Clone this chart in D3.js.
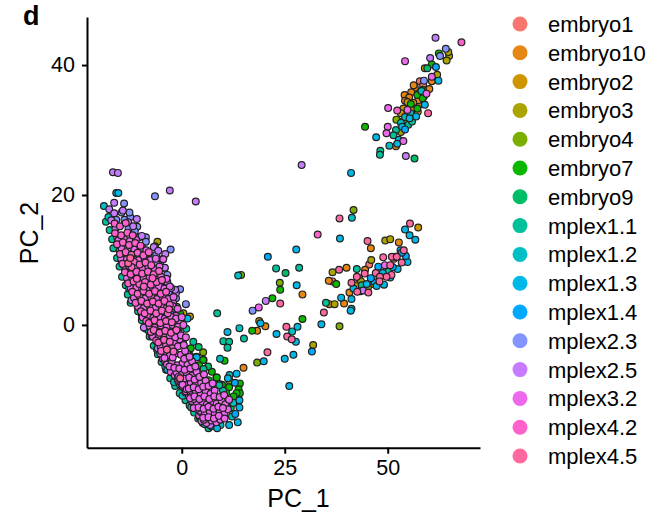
<!DOCTYPE html>
<html><head><meta charset="utf-8">
<script src="https://cdn.jsdelivr.net/npm/d3@7"></script>
<style>html,body{margin:0;padding:0;background:#fff}svg{display:block}text{font-family:"Liberation Sans",Helvetica,Arial,sans-serif;fill:#000}</style>
</head><body><svg id="c" width="665" height="518"></svg>
<script>
const categories=["embryo1","embryo10","embryo2","embryo3","embryo4","embryo7","embryo9","mplex1.1","mplex1.2","mplex1.3","mplex1.4","mplex2.3","mplex2.5","mplex3.2","mplex4.2","mplex4.5"];
const colors=["#F8766D","#E68613","#CD9600","#ABA300","#7CAE00","#0CB702","#00BE67","#00C19A","#00BFC4","#00B8E7","#00A9FF","#8494FF","#C77CFF","#ED68ED","#FF61CC","#FF68A1"];
const xTicks=[0,25,50];
const yTicks=[0,20,40];

const embryo1=[[57.8,37.5],[36.6,6.7],[45.5,9.3],[43,7.2],[51.5,10.2],[58.6,36.9],[-3,-2.5]];
const embryo10=[[60.1,36.3],[56.6,36.5],[55.7,35.8],[54.1,35.4],[55.2,35],[54.2,34.5],[57.6,33.9],[57.4,34.6],[52,27.5],[60.7,37.5],[56.3,36.9],[58.8,35.2],[29.3,4.7],[20.3,-0.2],[18.3,-0.9],[15,-6.6],[52.7,12.7],[45.9,11.8],[35.7,6.8],[40,8.8],[40.7,5],[39.4,3.3],[51.8,10.5],[44.5,8.5]];
const embryo2=[[59,39.5],[53.8,33.3],[56.2,34.2],[54.8,34.3],[53.6,31.3],[55.7,33.2],[57.3,32.8],[18.8,0.6],[57.4,15],[35.8,3.2],[42.6,6.1],[46.5,6.3],[2,1.3],[53.2,32.6]];
const embryo3=[[64.9,41.4],[64.3,40.7],[64.7,42],[62,38.5],[53.2,29.7],[54.5,31.4],[31.9,-3.1],[49.4,13],[50.6,13.2],[46,10],[43.5,6.7],[36.6,8.1],[37.1,3.2],[-5.9,12.8],[-4.2,8.7],[0.4,1.8],[45.2,5.8]];
const embryo4=[[52.1,31.6],[41.7,17.7],[14.4,7.7],[23.8,6.5],[38.3,-0.2],[18.3,-5.8],[5.2,-4.2],[11.6,-8.6]];
const embryo7=[[62.4,41.8],[60.7,40.1],[57.2,35.4],[58.5,36.2],[58.5,34.9],[55.6,34],[57.2,33.3],[44.5,30.5],[23.9,5.4],[22,4.1],[29.3,0.9],[17.1,-0.9],[10.4,-5.5],[8.4,-8.1],[14.1,-9],[13.8,-9.9],[14.1,-10.5],[37.5,6.3],[5.3,-5.4],[3.6,-4.9],[8.5,-8.1],[6.5,-8.5],[13.3,-10.5],[11.5,-9.6],[12.6,-11],[-0.4,1.7],[-6.5,12.1],[7.3,-7.2],[9.8,-9.2],[5.2,-5.4],[2.2,-3.6],[10.8,-10.5],[4.2,-6.2]];
const embryo9=[[59.6,39.5],[56.5,25.6],[25.2,8],[-1.2,2.8],[4.1,-3.4],[6.4,-6.4],[11.9,-12.8]];
const mplex11=[[48.2,26.8],[48.1,26.2],[52,30],[51.4,29.2],[55,30.8],[55.9,31.3],[22.9,8.7],[28.5,8.8],[8.6,1.8],[10.1,-2.5],[11.5,-2.6],[11.1,-3.5],[15.1,-2.1],[9.1,-9.1],[42.5,8.6],[35,3.4],[41.2,2.5],[1.1,-0.6],[2.8,-2.6],[2,-4.7],[5.3,-6.8],[10,-10.1],[9.1,-9.3],[0.1,-10],[6.5,-15.9],[-18.4,15.9],[-17.5,14.6],[-16.9,13.2],[-16.6,11.8],[-15.7,10.3],[-15.1,9],[-14.5,7.4],[-13.6,6.1],[-13.1,4.7],[-12.4,3.4],[-10.6,2.1],[-9.7,0.7],[-8.7,-0.6],[-7.8,-1.8],[-6.8,-3.2],[-5.8,-4.5],[-4.9,-5.7],[-3.8,-6.9],[-2.8,-8.2],[-1.6,-9.4],[-0.5,-10.5],[0.9,-11.6],[1.9,-12.4],[3,-13.5],[4,-14.4],[5.1,-15.1],[43.7,6.1],[50.2,8.2],[-1,-8.8],[-2.1,-7.4]];
const mplex12=[[-15.9,20.3],[13.7,7.6],[14,-0.5],[9.3,-5.2],[26.8,-1],[41.3,16.5],[50.4,27.6],[54.2,32],[53.2,31.1],[58.2,36],[55.5,32.6],[-18.9,18.3],[-17.8,16.6],[-15.4,12.7],[-14.6,9.9],[-12.8,5.6],[-10.7,2.8],[-8,-0.9],[-6,-3.8],[-4,-6.4],[-1.9,-8.8],[0.2,-10.9],[2.3,-12.7],[4.4,-14.2],[5.6,-15.3],[7.2,-15.6],[9.4,-15.4],[12.2,-14.1],[11.6,-7.7],[12.5,-12]];
const mplex13=[[59,33.9],[47.2,28.9],[41.1,23.4],[56.9,32.1],[55.3,31.8],[52.7,28.5],[52.3,27.9],[53.5,30.5],[62.3,37.6],[27.8,11.6],[38.4,13.3],[27.9,6.1],[19.1,0.25],[23,-1.4],[11.1,-1.1],[28.1,-0.3],[27.7,-2.6],[33.9,0.1],[27.1,-4.6],[25,-5.2],[19.9,-5.6],[13.3,-7.5],[11.2,-8.2],[26.1,-9.4],[54.2,14.7],[55.3,13.8],[56.7,13.1],[54.8,9.7],[52.4,8.6],[48.8,8],[46.7,6.7],[44.9,6.3],[49.1,6.2],[47.3,6],[41.7,5.6],[41.2,4],[38.7,4.2],[41,2.2],[1.4,1],[3.6,-5],[-3.5,-6.9],[14,-12.7],[14,-11.6],[13.6,-15],[11.5,-15.4],[8.6,-15.9],[-15.4,20.3]];
const mplex14=[[61.7,39.7],[54.2,30.1],[31.6,-4.1],[20.9,10.5],[53.1,11.5],[54.4,10.6],[47.7,8.97],[47.4,7.4],[45.9,7.2],[51.2,8.9],[50.6,7.3],[43.4,5.2],[53.4,11.1],[13,-13.7],[12.9,-8.9]];
const mplex23=[[64.1,42.5],[62.7,41.4],[58.8,37.6],[17.2,2.2],[-6.5,19.8],[-14,18.7],[-12.5,16.6],[-10.8,15.1],[-10.3,13.5],[-8.7,13.5],[-8.7,12.8],[-2.7,11.6],[-6.2,10.8],[-3.5,7.7],[-0.4,5.5],[-1.4,4.1],[-3.2,5],[1,3.2],[-2.7,1.8],[0,-0.1],[-12.7,17.3],[-13.9,16.2],[-15.9,16.2],[-11.4,14.4],[-12.9,14.9],[-4.8,6.7],[-7.1,8.2],[-9.6,11.9],[-1.6,2.5],[-0.9,1],[-5.2,9.2],[-14.6,17.3]];
const mplex25=[[61.6,44.2],[60.3,41.1],[54.4,26],[29.1,24.6],[20.4,3.7],[44,5.3],[-16.7,23.5],[-15.5,23.4],[-2.9,20.7],[3.4,19],[-16.4,18.8],[-17.6,17.8],[-16.4,17.2],[-14.3,17.6],[-10.9,16.3],[-4.5,10.2],[-3.6,6.6],[-1.4,4.9],[-3.5,6.6],[-1.6,5.4],[-4,10.9],[-17.1,16.1],[-16.1,14.8],[-13,15.8],[-15.7,13.5],[-11.8,15.2],[-9.7,13.7],[-6.2,9.6],[-4.1,8.8],[-2.6,5.7],[-3.4,3.4],[-1.7,1.2],[-0.8,-0.8],[0.3,-2.6],[-9.2,-0.4],[-9.7,1.4],[-12.2,3.8],[-13,6.7],[-7.2,-1.8],[-5.8,-3.6],[-4.6,-5.2],[1.3,-4.4],[2.8,-6.2],[-2.3,-7.2],[-0.4,-9.2],[-15.1,11.4],[-14.2,9.3],[4.9,-7.9],[-0.4,-7.1],[6.9,-15.4],[-8,11],[-6.8,12],[-5.7,11.4]];
const mplex32=[[54.2,40.6],[50.1,33.4],[50,30.5],[49.7,29.5],[53.8,28.3],[54.8,33.1],[60.7,38.2],[59.4,35.6],[18.7,2.7],[49.3,9.2],[-4.5,10.1],[-6,-2.6],[-4.6,-2.4],[-3.2,-2.5],[-1.6,-2.7],[-0.5,-2.2],[-5.2,-4.4],[-4.2,-4.2],[-2.9,-4.7],[-1.5,-4.4],[-0.2,-4.6],[0.8,-4],[-4.1,-5.5],[-3.6,-6.1],[-2.4,-5.8],[-1.1,-6.2],[0.2,-5.9],[1.4,-6.1],[2.5,-5.6],[-2.7,-7.2],[-1.7,-7.8],[-1.3,-7.3],[0,-7.6],[1.2,-7.4],[2.5,-7.8],[3.6,-7.2],[-0.9,-8.6],[0.1,-9.4],[-0.2,-8.8],[1,-9.2],[2.2,-8.9],[3.4,-9.2],[4.7,-8.9],[5.8,-8.6],[0.9,-10.4],[1.7,-10.9],[1,-10.2],[2.2,-10.7],[3.4,-10.3],[4.6,-10.6],[5.8,-10.2],[7,-10.6],[8,-10.1],[2.4,-11.6],[3,-12.4],[2.5,-11.7],[3.7,-12.2],[4.9,-11.8],[6.1,-12.2],[7.3,-11.8],[8.5,-12.1],[9.7,-11.7],[10.6,-12.2],[4.2,-13.9],[4.6,-13.4],[4.4,-13.2],[5.6,-13.7],[6.8,-13.3],[8,-13.7],[9.2,-13.3],[10.4,-13.6],[11.2,-13],[4.8,-14.8],[6,-15.1],[7.2,-14.7],[8.4,-15],[9.4,-14.6],[-5.1,-3.4],[-3.8,-3.2],[-2.3,-3.6],[-0.9,-3.3],[0.5,-3.1],[-4.2,-5.1],[-2.2,-5],[0.6,-5.2],[1.9,-4.9],[-3,-6.4],[-1.8,-6.6],[-0.6,-6.7],[0.7,-6.9],[2.1,-6.7],[3.3,-6.4],[-1,-8.3],[-0.8,-8],[0.6,-8.3],[1.8,-8.1],[3.1,-8.4],[4.3,-8],[5.4,-7.6],[0.2,-9.2],[1.2,-9.9],[1.7,-9.8],[2.9,-9.6],[4.1,-9.9],[5.2,-9.5],[6.5,-9.4],[7.5,-9],[2.4,-11],[2.9,-11.4],[2,-11.3],[3.1,-11],[4.3,-11.4],[5.5,-11],[6.7,-11.4],[7.9,-11],[9.2,-11.1],[10.3,-10.8],[3.6,-12.9],[2.9,-12.8],[4.1,-12.7],[5.3,-12.9],[6.5,-12.6],[7.7,-12.9],[8.9,-12.6],[10,-12.8],[11.5,-11.5],[5.4,-14.6],[5.2,-14.3],[6.5,-14.2],[7.8,-14.4],[9,-14],[10.4,-14.4],[-7.4,-0.2],[-6.1,-1.1],[-4.7,-0.8],[-3.3,-1.2],[-2,-0.6],[-0.8,-1.2],[-0.4,0.4],[-1.4,1.4],[-2.5,2.8],[-3.6,4.1],[-8.6,2.4],[-10.1,3.4],[-6.2,4.2],[-11.8,7.4],[-13.8,11.2],[-14.9,12.4],[-12.1,11.8],[-6.9,6.8],[-4.9,5.8],[-2.1,3.4],[-5,1.2],[-15.4,13],[-14,13.2],[-12.6,12.9],[-11.1,13.1],[-14.6,11.7],[-13,11.8],[-11.5,11.6],[-10,11.8],[-8.6,11.5],[-14.7,10.2],[-13.3,10.1],[-11.9,10.3],[-10.4,10],[-9,10.3],[-7.6,10],[-6.3,10.2],[-13.5,8.8],[-10.9,8.9],[-9.5,8.6],[-8.1,8.9],[-6.6,8.6],[-5.4,9],[-13.3,7.2],[-12,7.1],[-10.6,7.4],[-9.2,7.1],[-7.8,7.3],[-6.3,7],[-5,7.4],[-3.7,7.1],[-12.4,5.7],[-11,5.8],[-9.6,5.5],[-8.2,5.8],[-6.9,5.6],[-5.5,5.9],[-4.2,5.6],[-2.9,5.9],[-11.6,4.2],[-10.2,4.4],[-8.8,4.1],[-7.4,4.3],[-6,4],[-4.6,4.3],[-3.3,4],[-2,4.3],[-10.6,2.8],[-9.2,2.6],[-7.8,2.9],[-6.4,2.6],[-5,2.9],[-3.6,2.6],[-2.2,2.9],[-1,2.5],[-9.5,1.2],[-8.2,1.4],[-6.9,1.1],[-5.5,1.3],[-4.1,1],[-2.7,1.3],[-1.4,1],[0,1.2],[-7.8,-0.2],[-6.5,-0.4],[-5.1,-0.1],[-3.6,-0.3],[-2.2,0],[-0.9,-0.3],[0.4,0],[-7,-1.8],[-5.6,-1.6],[-4.3,-1.9],[-2.9,-1.7],[-1.6,-1.9],[-0.2,-1.6],[1,-1.9]];
const mplex42=[[67.9,43.5],[52.3,33],[33,13.9],[-16.3,15.6],[-15,15.2],[-13.6,15.7],[-16.2,14.1],[-14.7,13.8],[-13.2,14.2],[-11.9,13.8],[-15.7,12.4],[-14.3,12.7],[-12.8,12.3],[-11.3,12.6],[-10,12.2],[-15,10.9],[-13.6,11.2],[-12.2,10.8],[-10.7,11.1],[-9.3,10.7],[-8,11.2],[-14.4,9.4],[-11.6,9.7],[-10.2,9.3],[-8.8,9.6],[-7.4,9.2],[-13.8,8.1],[-12.4,7.8],[-11,8.2],[-9.6,7.9],[-8.2,8.2],[-6.8,7.8],[-5.5,8.3],[-13,6.4],[-11.7,6.7],[-10.3,6.3],[-8.9,6.6],[-7.5,6.2],[-6.1,6.6],[-4.8,6.9],[-12,5.1],[-10.7,4.8],[-9.3,5.2],[-7.9,4.8],[-6.5,5.2],[-5.1,4.8],[-3.8,5.1],[-11.2,3.4],[-9.8,3.7],[-8.4,3.3],[-7,3.6],[-5.6,3.3],[-4.2,3.7],[-2.9,3.1],[-9.9,2.1],[-9,1.8],[-7.6,2.2],[-6.2,1.8],[-4.8,2.2],[-3.4,1.8],[-8.6,0.6],[-8,0.3],[-6.6,0.7],[-5.2,0.3],[-3.8,0.6],[-2.4,0.4],[-7.5,-1.1],[-6.8,-0.8],[-5.4,-1.2],[-4,-0.9],[-2.6,-1.2],[-1.3,-0.8],[-6.2,-2.4],[-5.7,-2.7],[-4.3,-2.3],[-2.9,-2.6],[-5,-4],[-3.6,-3.8],[-2,-4.1],[-12.8,9.1],[-10.9,7.1],[-12.2,8.9],[-9.2,5.9],[-7.1,7.2],[-3.1,2.4]];
const mplex45=[[59.8,32.6],[38.3,16.4],[23.9,3.3],[25.4,-0.3],[25.6,-1.8],[26.7,-2.2],[34.5,1.9],[20.8,-4.2],[55.4,15.6],[45.1,12.9],[48.9,10.4],[53.9,11.5],[51,10.5],[52.2,10.5],[53.4,9.6],[50.6,9.2],[47.1,8],[44.4,7.9],[50.9,7.7],[49.7,7.4],[48.1,7.4],[42.5,7.4],[41.2,6.5],[48,6.7],[45.3,5],[42.6,5.1],[38.2,8.5],[-13,9.5],[-12.5,10.3],[-3.6,-3.8],[-0.4,-8.2]];
const seriesValues=[embryo1,embryo10,embryo2,embryo3,embryo4,embryo7,embryo9,mplex11,mplex12,mplex13,mplex14,mplex23,mplex25,mplex32,mplex42,mplex45];

const svg=d3.select("#c");
const x=d3.scaleLinear().domain([-23,72.4]).range([87,480]);
const y=d3.scaleLinear().domain([-18.9,47.4]).range([447.7,17]);

const points=svg.append("g");
seriesValues.forEach((vals,i)=>{
  points.selectAll(null).data(vals).enter().append("circle")
    .attr("cx",d=>x(d[0])).attr("cy",d=>y(d[1])).attr("r",3.4)
    .attr("fill",colors[i]).attr("stroke","#222").attr("stroke-width",1.2);
});

const gx=svg.append("g").attr("transform","translate(0,447.7)")
  .call(d3.axisBottom(x).tickValues(xTicks).tickSizeInner(6).tickSizeOuter(0).tickPadding(6));
const gy=svg.append("g").attr("transform","translate(87,0)")
  .call(d3.axisLeft(y).tickValues(yTicks).tickSizeInner(5).tickSizeOuter(0).tickPadding(7));
[gx,gy].forEach(g=>{
  g.selectAll("path").attr("stroke","#000").attr("stroke-width",2);
  g.selectAll("line").attr("stroke","#000").attr("stroke-width",2);
  g.selectAll("text").style("font-family",'"Liberation Sans",Arial,sans-serif').style("font-size","21.5px").attr("fill","#000");
});

svg.append("text").attr("x",298.5).attr("y",507).attr("text-anchor","middle").style("font-size","25px").text("PC_1");
svg.append("text").attr("transform","translate(38,233) rotate(-90)").attr("text-anchor","middle").style("font-size","25px").text("PC_2");
svg.append("text").attr("x",23).attr("y",24.5).style("font-size","27px").style("font-weight","bold").text("d");

const ly=d3.scalePoint().domain(categories).range([24,456]);
const leg=svg.append("g").selectAll("g").data(categories).enter().append("g")
  .attr("transform",d=>`translate(0,${ly(d)})`);
leg.append("circle").attr("cx",520).attr("r",7.5).attr("fill",(d,i)=>colors[i]);
leg.append("text").attr("x",548).attr("dy","0.36em").style("font-size","22px").text(d=>d);
</script></body></html>
